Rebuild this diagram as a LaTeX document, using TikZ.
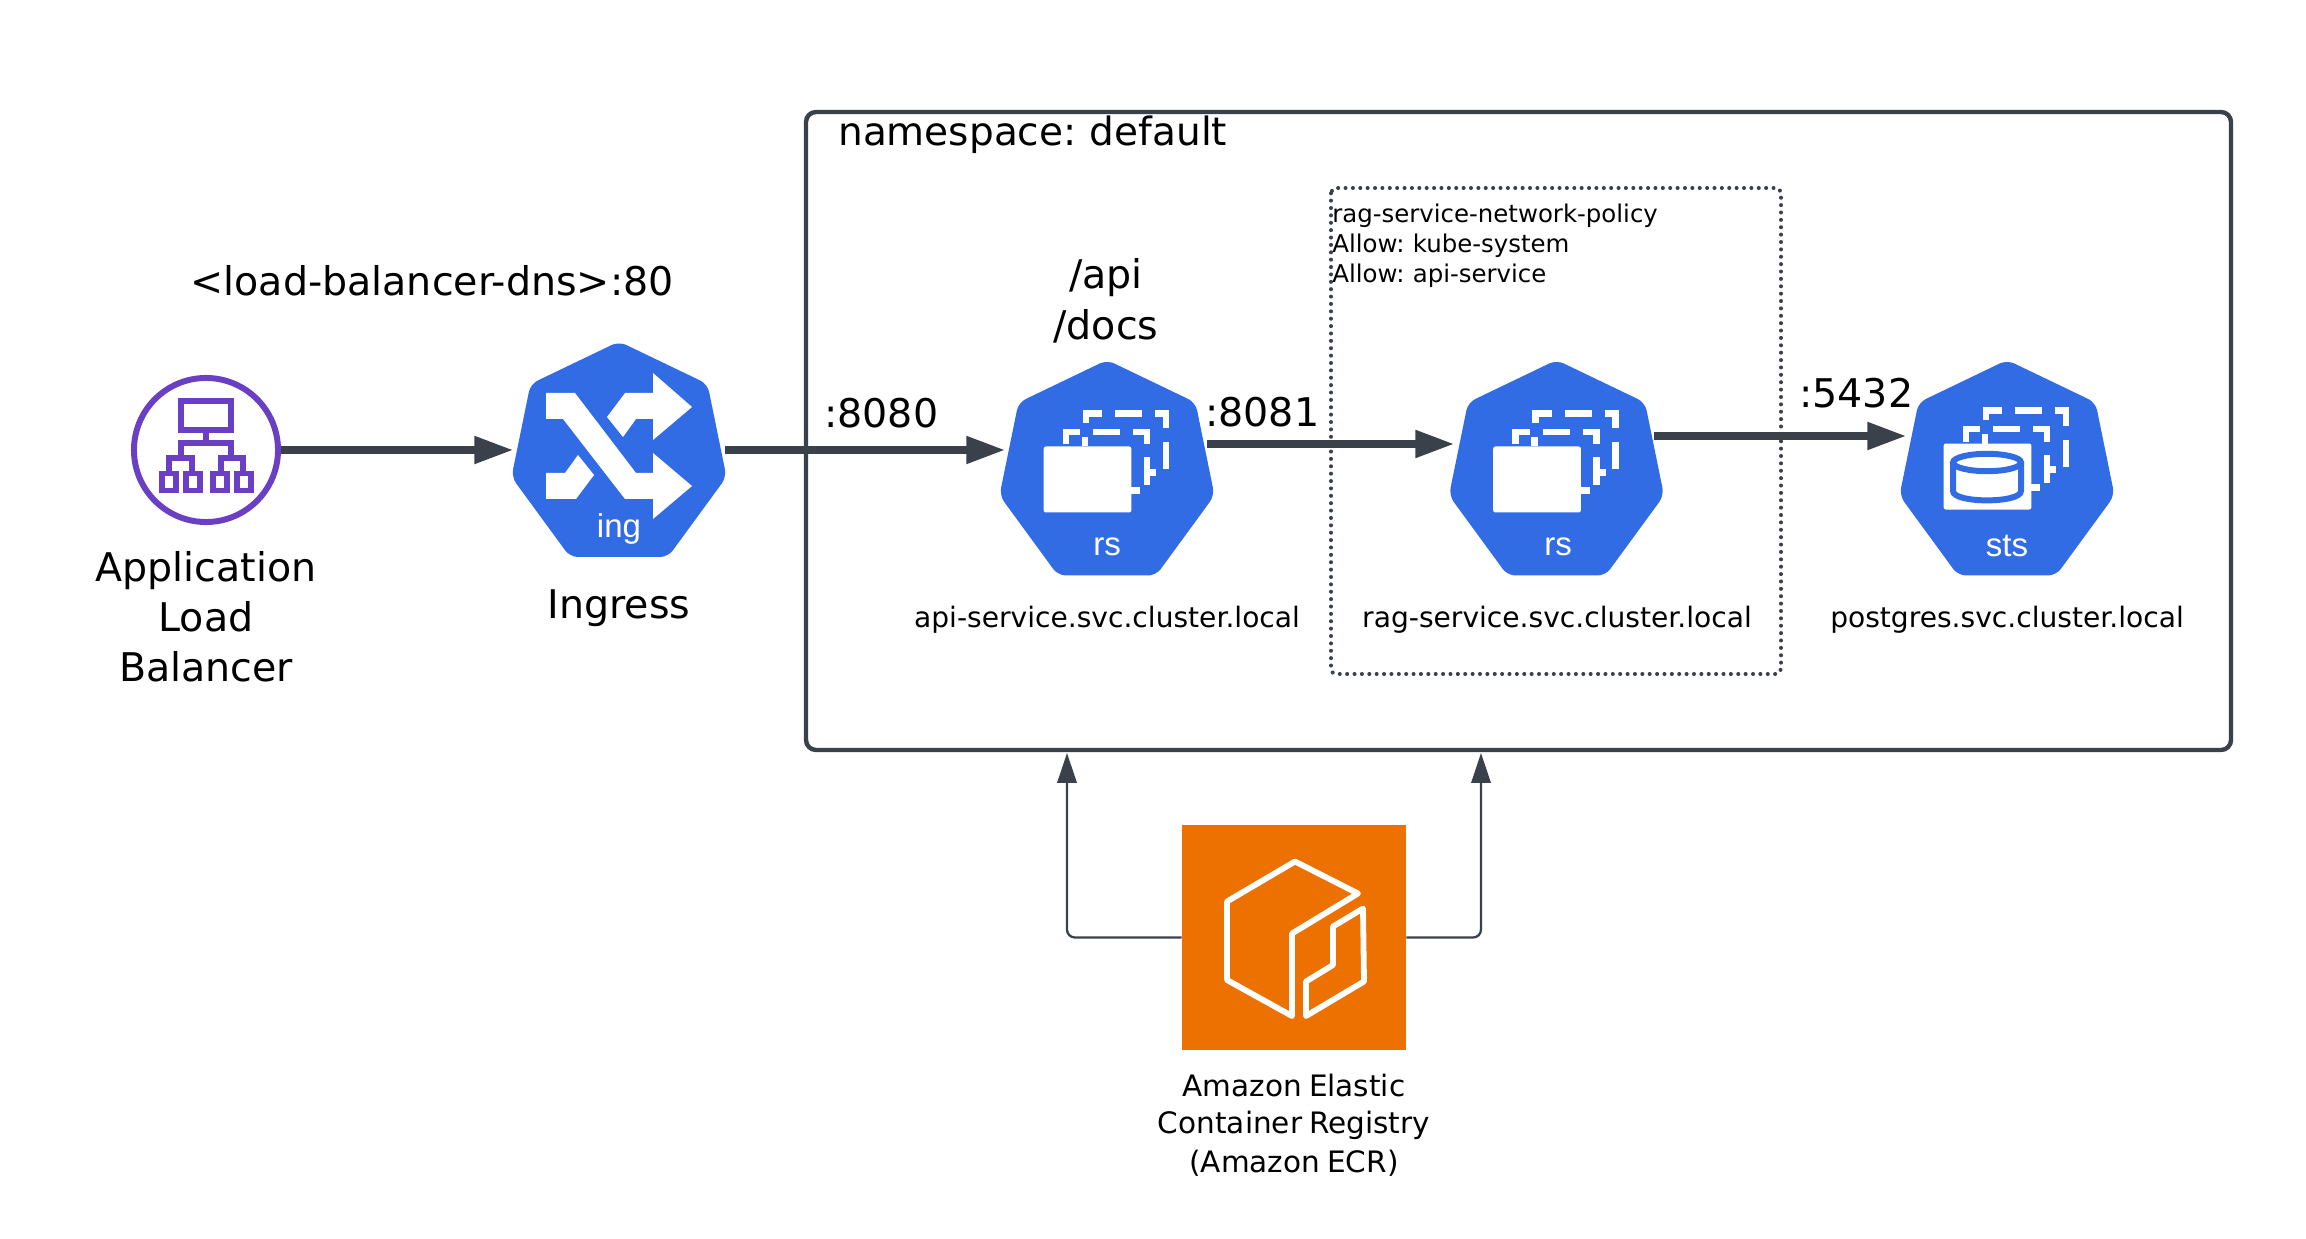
\documentclass[tikz,border=0pt]{standalone}
\usepackage{fontspec}
\setmainfont[WordSpace=0.75]{DejaVu Sans}
\newfontfamily\kubefont{Liberation Sans}
\usetikzlibrary{arrows.meta}
\definecolor{kubeblue}{HTML}{326CE5}
\definecolor{linegray}{HTML}{3A414B}
\definecolor{albpurple}{HTML}{6B3FC4}
\definecolor{ecrorange}{HTML}{ED7100}
\tikzset{
  x=0.02cm, y=-0.02cm,
  bigtext/.style={font=\fontsize{22.5}{29}\selectfont, inner sep=0pt, anchor=base},
  svctext/.style={font=\fontsize{16}{21.6}\selectfont, inner sep=0pt, anchor=base},
  ecrtext/.style={font=\fontsize{16.8}{21.6}\selectfont, inner sep=0pt, anchor=base},
  policytext/.style={font=\fontsize{13.9}{17}\selectfont, inner sep=0pt, anchor=base west},
  kubetext/.style={font=\kubefont\fontsize{18.8}{22}\selectfont, text=white, inner sep=0pt, anchor=base},
  kubebox/.style={minimum size=120.6pt, inner sep=0pt, outer sep=0pt},
  flow/.style={draw=linegray, line width=4pt, -{Triangle[length=22pt,width=15pt]}},
  pull/.style={draw=linegray, line width=1.3pt, rounded corners=4.5pt, -{Triangle[length=17pt,width=11pt]}},
  framebar/.style={draw=white, line width=3.8pt},
  kubehept/.pic={
    \fill[kubeblue, rounded corners=4.5pt] (0,-108.5)--(88.5,-66)--(107.5,27)--(49,107)--(-49,107)--(-107.5,27)--(-88.5,-66)--cycle;
  },
  kubestack/.pic={
    \draw[framebar] (-41,-24)--(-41,-36.5)--(-27,-36.5);
    \draw[framebar] (-22,-31.5)--(-22,-22);
    \draw[framebar] (-14,-36.5)--(13,-36.5);
    \draw[framebar] (26,-36.5)--(40,-36.5)--(40,-24);
    \draw[framebar] (40,-11)--(40,17);
    \draw[framebar] (40,4)--(49,4);
    \draw[framebar] (24,22)--(33,22);
    \draw[framebar] (-21,-45.5)--(-21,-55)--(-5,-55);
    \draw[framebar] (8,-55)--(35,-55);
    \draw[framebar] (48,-55)--(59,-55)--(59,-40);
    \draw[framebar] (59,-26)--(59,1);
    \fill[white, rounded corners=1.2pt] (-63.3,-22) rectangle (24.3,44);
  },
}
\begin{document}
\begin{tikzpicture}
\useasboundingbox (0,0) rectangle (2306,1239);
% namespace and policy boxes
\draw[linegray, line width=2.5pt, rounded corners=5.7pt] (806,112) rectangle (2231,750);
\draw[linegray, line width=2.3pt, line cap=round, dash pattern=on 0pt off 4.2pt, rounded corners=3pt] (1331,188) rectangle (1781,674);
\node[bigtext, anchor=base west, font=\fontsize{22.2}{29}\selectfont] (nslabel) at (838,146) {namespace: default};
\node[policytext] (policya) at (1332,223) {rag-service-network-policy};
\node[policytext] (policyb) at (1332,253) {Allow: kube-system};
\node[policytext] (policyc) at (1332,283) {Allow: api-service};

% load balancer
\node[circle, draw=albpurple, line width=3.4pt, minimum size=82pt, inner sep=0pt, outer sep=1.7pt] (alb) at (206,450) {};
\begin{scope}[shift={(alb.center)}, draw=albpurple, line width=3.1pt]
\draw (-25,-49) rectangle (25,-20);
\draw (0,-20)--(0,-7);
\draw (-25,8)--(-25,-7)--(25,-7)--(25,8);
\draw (-37,24)--(-37,8)--(-14,8)--(-14,24);
\draw (15,24)--(15,8)--(37,8)--(37,24);
\foreach \sx in {-44,-20,7,31}
  \draw (\sx,23.5) rectangle ++(14,17);
\end{scope}
\node[bigtext] (alba) at (206,582) {Application};
\node[bigtext] (albb) at (206,632) {Load};
\node[bigtext] (albc) at (206,682) {Balancer};
\node[bigtext] (dns) at (432,296) {<load-balancer-dns>:80};

% ingress
\node[kubebox] (ing) at (619,450) {};
\pic at (ing) {kubehept};
\begin{scope}[shift={(ing.center)}]
\fill[white] (-73,-57)--(-44,-57)--(17,23)--(34,23)--(34,3)--(73,36)--(34,69)--(34,49)--(6,49)--(-56,-31)--(-73,-31)--cycle;
\fill[white] (-12,-33)--(6,-57)--(34,-57)--(34,-77)--(73,-43)--(34,-10)--(34,-31)--(17,-31)--(4,-13)--cycle;
\fill[white] (-73,23)--(-54,23)--(-41,5)--(-25,25)--(-43,49)--(-73,49)--cycle;
\end{scope}
\node[kubetext] (inglabel) at (619,538) {ing};
\node[bigtext] (ingname) at (619,619) {Ingress};

% services
\node[kubebox] (rsa) at (1107,468.5) {};
\pic at (rsa) {kubehept};
\pic at (rsa) {kubestack};
\node[kubetext] (rsalabel) at (1107,556) {rs};
\node[kubebox] (rsb) at (1556.5,468.5) {};
\pic at (rsb) {kubehept};
\pic at (rsb) {kubestack};
\node[kubetext] (rsblabel) at (1558,556) {rs};
\node[kubebox] (sts) at (2007,468.5) {};
\pic at (sts) {kubehept};
\pic at ([yshift=1.7pt]sts.center) {kubestack};
\begin{scope}[shift={(sts.center)}, draw=kubeblue, line width=3.4pt]
\draw (-20,-6) ellipse [x radius=34, y radius=8.7];
\draw (-54,-6)--(-54,22.5) .. controls (-54,35) and (14,35) .. (14,22.5)--(14,-6);
\end{scope}
\node[kubetext] (stslabel) at (2007,557) {sts};

\node[svctext] (apiname) at (1107,628) {api-service.svc.cluster.local};
\node[svctext] (ragname) at (1557,628) {rag-service.svc.cluster.local};
\node[svctext] (pgname) at (2007,628) {postgres.svc.cluster.local};
\node[bigtext] (apipath) at (1106,289) {/api};
\node[bigtext] (docspath) at (1106,340) {/docs};

% ports
\coordinate (rsain) at ([xshift=2.2pt]rsa.west |- ing.east);
\coordinate (rsaout) at ([shift={(-6,-24.5)}]rsa.east);
\coordinate (rsbin) at ([shift={(3.5,-24.5)}]rsb.west);
\coordinate (rsbout) at ([shift={(-8.5,-32.5)}]rsb.east);
\coordinate (stsin) at ([shift={(5,-32.5)}]sts.west);
\draw[flow] (alb.east)--(ing.west);
\draw[flow] (ing.east)--(rsain);
\draw[flow] (rsaout)--(rsbin);
\draw[flow] (rsbout)--(stsin);
\node[bigtext, anchor=base west] (porta) at (824,428) {:8080};
\node[bigtext, anchor=base west] (portb) at (1205,427) {:8081};
\node[bigtext, anchor=base west] (portc) at (1799,408) {:5432};

% registry
\node[fill=ecrorange, minimum size=128pt, inner sep=0pt, outer sep=0pt] (ecr) at (1294,937.5) {};
\begin{scope}[shift={(ecr.center)}, draw=white, line width=3.3pt, line join=round]
\draw (1,-76)--(64,-44)--(-2,-4)--(-2,78.5)--(-67,42.5)--(-67,-36)--cycle;
\draw (69,-29)--(39,-11)--(39,27.5)--(12,44)--(12,78.5)--(70,44)--cycle;
\end{scope}
\coordinate (pullleft) at (1067,753);
\coordinate (pullright) at (1481,753);
\draw[pull] (ecr.west) -| (pullleft);
\draw[pull] (ecr.east) -| (pullright);
\node[ecrtext] (ecra) at (1294,1096) {Amazon Elastic};
\node[ecrtext] (ecrb) at (1294,1133) {Container Registry};
\node[ecrtext] (ecrc) at (1294,1172) {(Amazon ECR)};
\end{tikzpicture}
\end{document}
